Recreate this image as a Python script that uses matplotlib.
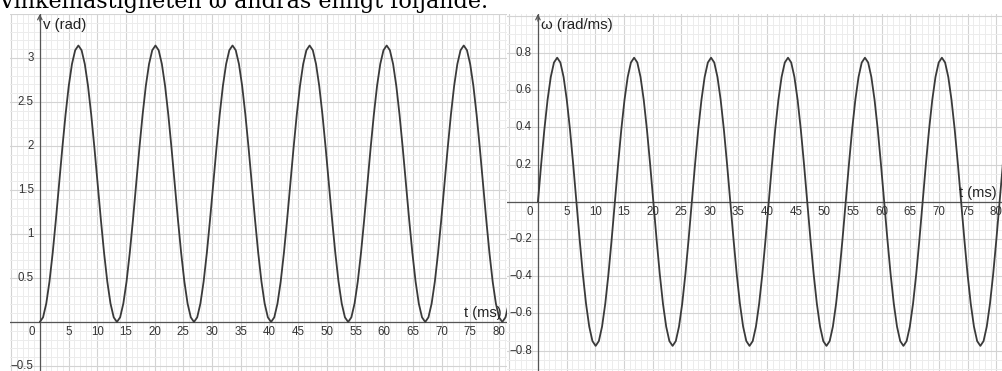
import matplotlib.pyplot as plt
import numpy as np
from matplotlib.transforms import offset_copy

# one period of each curve (24 readings per period)
phase_t = [0, 0.560, 1.119, 1.679, 2.238, 2.798, 3.358, 3.917, 4.477, 5.036,
           5.596, 6.155, 6.715, 7.275, 7.834, 8.394, 8.953, 9.513, 10.073,
           10.632, 11.192, 11.751, 12.311, 12.871]
v_cycle = [0, 0.053, 0.210, 0.460, 0.785, 1.164, 1.571, 1.977, 2.356, 2.682,
           2.931, 3.088, 3.142, 3.088, 2.931, 2.682, 2.356, 1.977, 1.571,
           1.164, 0.785, 0.460, 0.210, 0.053]
w_cycle = [0, 0.201, 0.388, 0.548, 0.671, 0.749, 0.775, 0.749, 0.671, 0.548,
           0.388, 0.201, 0, -0.201, -0.388, -0.548, -0.671, -0.749, -0.775,
           -0.749, -0.671, -0.548, -0.388, -0.201]
# start of each period (ms)
cycle_start = [0, 13.43, 26.86, 40.29, 53.72, 67.15, 80.58]

x_ticks = list(range(5, 85, 5))
v_ticks = [-0.5, 0.5, 1, 1.5, 2, 2.5, 3]
w_ticks = [-0.8, -0.6, -0.4, -0.2, 0.2, 0.4, 0.6, 0.8]

t = np.concatenate([s + np.array(phase_t) for s in cycle_start])
v = np.tile(v_cycle, len(cycle_start))
w = np.tile(w_cycle, len(cycle_start))

plt.rcParams['font.family'] = ['Liberation Sans', 'DejaVu Sans']

W, H = 1002, 371
fig = plt.figure(figsize=(W / 100, H / 100), dpi=100)

fig.text(-0.002, 1 - 8 / H, "Vinkelhastigheten \u03c9 \u00e4ndras enligt f\u00f6ljande.",
         fontsize=16, family=['DejaVu Serif'],
         va='baseline', ha='left', color='black')

MAJOR = '#d3d3d3'
MINOR = '#ececec'
AXIS = '#555555'
CURVE = '#3a3a3a'
LABEL = '#333333'


def fmt(val):
    s = f"{val:g}"
    return s.replace('-', '\u2212')


def panel(rect, yvals, xlim, ylim, ystep, ysub, yticks, ylabel):
    ax = fig.add_axes(rect)
    for sp in ax.spines.values():
        sp.set_visible(False)
    ax.set_xticks(np.arange(-5, 85, 5))
    ax.set_xticks(np.arange(-5, 85, 1), minor=True)
    ax.set_yticks(np.arange(-2, 4, ystep))
    ax.set_yticks(np.arange(-2, 4, ystep / ysub), minor=True)
    ax.set_xlim(*xlim)
    ax.set_ylim(*ylim)
    ax.grid(which='minor', color=MINOR, lw=0.7)
    ax.grid(which='major', color=MAJOR, lw=0.8)
    ax.tick_params(which='both', length=0, labelbottom=False, labelleft=False)
    ax.set_axisbelow(True)

    ax.axhline(0, color=AXIS, lw=0.9, zorder=2)
    ax.axvline(0, color=AXIS, lw=0.9, zorder=2)
    # arrow head on the vertical axis
    ax.annotate('', xy=(0, ylim[1]), xytext=(0, ylim[1] - 0.02 * (ylim[1] - ylim[0])),
                arrowprops=dict(arrowstyle='->', color=AXIS, lw=0.9,
                                mutation_scale=8, shrinkA=0, shrinkB=0))

    ax.plot(t, yvals, color=CURVE, lw=1.3, zorder=3, solid_capstyle='round')

    below = offset_copy(ax.transData, fig, x=0, y=-10, units='dots')
    for xt in x_ticks:
        ax.text(xt, 0, fmt(xt), transform=below, ha='center', va='center',
                fontsize=8.3, color=LABEL)
    origin = offset_copy(ax.transData, fig, x=-8, y=-10, units='dots')
    ax.text(0, 0, '0', transform=origin, ha='center', va='center',
            fontsize=8.3, color=LABEL)
    left = offset_copy(ax.transData, fig, x=-6, y=0, units='dots')
    for yt in yticks:
        ax.text(0, yt, fmt(yt), transform=left, ha='right', va='center',
                fontsize=8.3, color=LABEL)

    ax.text(xlim[1] - 0.3, 0, 't (ms)',
            transform=offset_copy(ax.transData, fig, x=-4, y=2, units='dots'),
            ha='right', va='bottom', fontsize=10.5, color='#222222')
    ax.text(0, ylim[1], ylabel,
            transform=offset_copy(ax.transData, fig, x=3, y=-11, units='dots'),
            ha='left', va='center', fontsize=10.8, color='#222222')
    return ax


top = 14 / H
panel([10 / W, 0, 497 / W, 1 - top], v, (-5.2, 81.4), (-0.557, 3.5),
      0.5, 5, v_ticks, 'v (rad)')
panel([507 / W, 0, 495 / W, 1 - top], w, (-5.4, 81.0), (-0.91, 1.01),
      0.2, 4, w_ticks, '\u03c9 (rad/ms)')

fig.savefig('out.png', dpi=100)
